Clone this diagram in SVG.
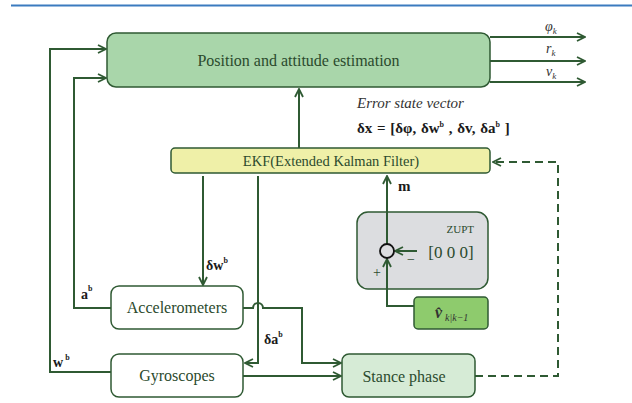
<svg xmlns="http://www.w3.org/2000/svg" width="632" height="403" viewBox="0 0 632 403">
<defs>
<style>
.box{stroke:#2f5a33;stroke-width:1.5}
.ln{fill:none;stroke:#2f5a33;stroke-width:2}
text{font-family:'Liberation Serif','DejaVu Serif',serif}
.t{fill:#2b4a2d}
.b{font-weight:bold;fill:#1a1a1a}
.i{font-style:italic;fill:#333}
</style>
<marker id="ah" viewBox="0 0 10 10" refX="9" refY="5" markerWidth="10" markerHeight="10" markerUnits="userSpaceOnUse" orient="auto">
<path d="M1,1 L9,5 L1,9" fill="none" stroke="#2f5a33" stroke-width="1.8"/>
</marker>
</defs>
<rect width="632" height="403" fill="#ffffff"/>
<line x1="11" y1="5.5" x2="632" y2="5.5" stroke="#3b7bbf" stroke-width="2"/>

<g id="position">
<rect class="box" x="107" y="33" width="383" height="54" rx="9" fill="#a9d6aa"/>
<text class="t" x="298.5" y="66" font-size="16" text-anchor="middle">Position and attitude estimation</text>
</g>

<g id="outputs">
<text class="i" x="545" y="31" font-size="14">φ<tspan font-size="9" dy="3">k</tspan></text>
<text class="i" x="546" y="53" font-size="14">r<tspan font-size="9" dy="3">k</tspan></text>
<text class="i" x="546" y="76" font-size="14">v<tspan font-size="9" dy="3">k</tspan></text>
</g>

<g id="error-state">
<text class="i" x="357" y="108" font-size="15">Error state vector</text>
<text class="b" x="357" y="133" font-size="15" word-spacing="1">δx = [δφ, δw<tspan font-size="8" dy="-6">b</tspan><tspan dy="6"> , δv, δa</tspan><tspan font-size="8" dy="-6">b</tspan><tspan dy="6"> ]</tspan></text>
</g>

<g id="ekf">
<rect class="box" x="171" y="148" width="319" height="25" rx="4" fill="#eff0a8"/>
<text class="t" x="331" y="166" font-size="14.5" text-anchor="middle">EKF(Extended Kalman Filter)</text>
</g>

<g id="zupt">
<rect class="box" x="357" y="212" width="131" height="77" rx="11" fill="#dcdde0"/>
<text class="t" x="474" y="233" font-size="11" text-anchor="end" fill="#4a5e4a">ZUPT</text>
<text class="t" x="451" y="258" font-size="17" text-anchor="middle" fill="#333">[0 0 0]</text>
<text class="t" x="411" y="264" font-size="14" text-anchor="middle" fill="#555">−</text>
<text class="t" x="377" y="277" font-size="14" text-anchor="middle" fill="#555">+</text>
</g>
<text class="b" x="398" y="191" font-size="15">m</text>

<g id="vhat">
<rect class="box" x="414" y="297" width="74" height="32" rx="4" fill="#8ecb6d"/>
<text class="i" x="435" y="318" font-size="16" font-weight="bold" fill="#222">v̂</text>
<text class="i" x="445" y="321" font-size="10" fill="#222">k|k−1</text>
</g>

<g id="stance">
<rect class="box" x="342" y="354" width="133" height="43" rx="7" fill="#d6ebd6"/>
<text class="t" x="404" y="382" font-size="16" text-anchor="middle">Stance phase</text>
</g>

<g id="accelerometers">
<rect class="box" x="111" y="286" width="132" height="43" rx="8" fill="#ffffff"/>
<text class="t" x="177" y="313" font-size="16" text-anchor="middle">Accelerometers</text>
</g>

<g id="gyroscopes">
<rect class="box" x="111" y="354" width="132" height="43" rx="8" fill="#ffffff"/>
<text class="t" x="177" y="381" font-size="16" text-anchor="middle">Gyroscopes</text>
</g>

<g id="connectors">
<path class="ln" d="M490,37 H585" marker-end="url(#ah)"/>
<path class="ln" d="M490,61 H585" marker-end="url(#ah)"/>
<path class="ln" d="M490,82 H585" marker-end="url(#ah)"/>
<path class="ln" d="M299,148 V89" marker-end="url(#ah)"/>
<path class="ln" d="M111,372 H50 V49 H106" marker-end="url(#ah)"/>
<path class="ln" d="M111,308 H74 V78 H106" marker-end="url(#ah)"/>
<path class="ln" d="M203,176 V285" marker-end="url(#ah)"/>
<path class="ln" d="M258,176 V363 H245" marker-end="url(#ah)"/>
<path class="ln" d="M243,308 H253 A5,5 0 0 1 263,308 H302 V363 H341" marker-end="url(#ah)"/>
<path class="ln" d="M243,376 H341" marker-end="url(#ah)"/>
<path class="ln" d="M475,376 H558 V162 H493" stroke-dasharray="8,5" marker-end="url(#ah)"/>
<path class="ln" d="M387,244 V176" marker-end="url(#ah)"/>
<path class="ln" d="M414,306 H387 V259" marker-end="url(#ah)"/>
<path class="ln" d="M417,251 H395" marker-end="url(#ah)"/>
<circle cx="387" cy="251" r="7" fill="none" stroke="#111" stroke-width="1.8"/>
</g>

<g id="labels">
<text class="b" x="81" y="299" font-size="14">a<tspan font-size="8" dy="-8">b</tspan></text>
<text class="b" x="53" y="367" font-size="14">w<tspan font-size="8" dy="-7"> b</tspan></text>
<text class="b" x="206" y="270" font-size="14">δw<tspan font-size="8" dy="-7">b</tspan></text>
<text class="b" x="264" y="344" font-size="14">δa<tspan font-size="8" dy="-7">b</tspan></text>
</g>
</svg>
